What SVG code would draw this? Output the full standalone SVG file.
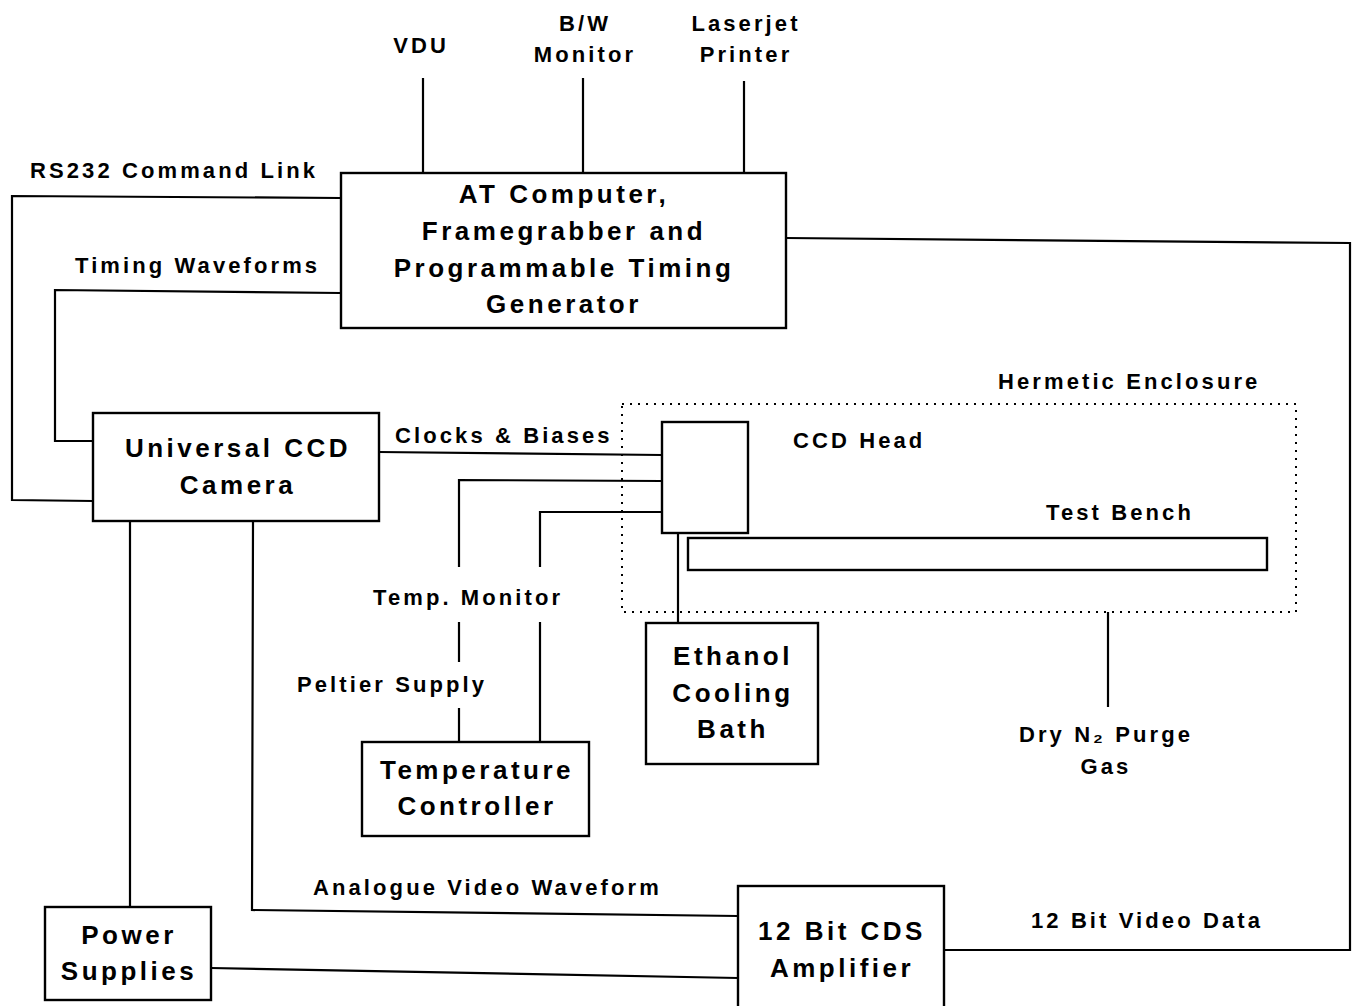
<svg xmlns="http://www.w3.org/2000/svg" width="1354" height="1006" viewBox="0 0 1354 1006">
<style>
.box{fill:#fff;stroke:#000;stroke-width:2.4}
.ln{fill:none;stroke:#000;stroke-width:2.2}
.dot{fill:none;stroke:#000;stroke-width:2;stroke-dasharray:2 6}
.t{font-family:"Liberation Sans",Arial,sans-serif;font-weight:bold;font-size:26px;letter-spacing:3.5px;text-anchor:middle;fill:#000}
.l{font-family:"Liberation Sans",Arial,sans-serif;font-weight:bold;font-size:22px;letter-spacing:3.1px;fill:#000}
.c{text-anchor:middle}
</style>
<rect width="1354" height="1006" fill="#fff"/>
<g id="connectors">
<line class="ln" x1="423" y1="78" x2="423" y2="173"/>
<line class="ln" x1="583" y1="78" x2="583" y2="173"/>
<line class="ln" x1="744" y1="81" x2="744" y2="173"/>
<polyline class="ln" points="341,198 12,196 12,500 93,501"/>
<polyline class="ln" points="341,293 55,290 55,441 93,441"/>
<line class="ln" x1="379" y1="452" x2="662" y2="455"/>
<polyline class="ln" points="662,481 459,480 459,567"/>
<line class="ln" x1="459" y1="622" x2="459" y2="662"/>
<line class="ln" x1="459" y1="708" x2="459" y2="742"/>
<polyline class="ln" points="662,512 540,512 540,567"/>
<line class="ln" x1="540" y1="622" x2="540" y2="742"/>
<line class="ln" x1="678" y1="533" x2="678" y2="623"/>
<line class="ln" x1="1108" y1="612" x2="1108" y2="707"/>
<line class="ln" x1="130" y1="521" x2="130" y2="907"/>
<polyline class="ln" points="253,521 252,910 738,916"/>
<line class="ln" x1="211" y1="968" x2="738" y2="978"/>
<polyline class="ln" points="944,950 1350,950 1350,243 786,238"/>
<rect class="dot" x="622" y="404" width="674" height="208"/>
</g>
<g id="at-computer">
<rect class="box" x="341" y="173" width="445" height="155"/>
<text class="t" x="564" y="203">AT Computer,</text>
<text class="t" x="564" y="240">Framegrabber and</text>
<text class="t" x="564" y="277">Programmable Timing</text>
<text class="t" x="564" y="313">Generator</text>
</g>
<g id="vdu"><text class="l c" x="421" y="53">VDU</text></g>
<g id="bw-monitor"><text class="l c" x="585" y="31">B/W</text><text class="l c" x="585" y="62">Monitor</text></g>
<g id="laserjet"><text class="l c" x="746" y="31">Laserjet</text><text class="l c" x="746" y="62">Printer</text></g>
<g id="camera">
<rect class="box" x="93" y="413" width="286" height="108"/>
<text class="t" x="238" y="457">Universal CCD</text>
<text class="t" x="238" y="494">Camera</text>
</g>
<g id="ccd-head">
<rect class="box" x="662" y="422" width="86" height="111"/>
<text class="l" x="793" y="448">CCD Head</text>
</g>
<g id="test-bench">
<rect class="box" x="688" y="538" width="579" height="32"/>
<text class="l" x="1046" y="520">Test Bench</text>
</g>
<g id="enclosure"><text class="l" x="998" y="389">Hermetic Enclosure</text></g>
<g id="temp-controller">
<rect class="box" x="362" y="742" width="227" height="94"/>
<text class="t" x="477" y="779">Temperature</text>
<text class="t" x="477" y="815">Controller</text>
</g>
<g id="ethanol">
<rect class="box" x="646" y="623" width="172" height="141"/>
<text class="t" x="733" y="665">Ethanol</text>
<text class="t" x="733" y="702">Cooling</text>
<text class="t" x="733" y="738">Bath</text>
</g>
<g id="n2"><text class="l c" x="1106" y="742">Dry N₂ Purge</text><text class="l c" x="1106" y="774">Gas</text></g>
<g id="power">
<rect class="box" x="45" y="907" width="166" height="93"/>
<text class="t" x="129" y="944">Power</text>
<text class="t" x="129" y="980">Supplies</text>
</g>
<g id="cds">
<rect class="box" x="738" y="886" width="206" height="124"/>
<text class="t" x="842" y="940">12 Bit CDS</text>
<text class="t" x="842" y="977">Amplifier</text>
</g>
<g id="labels">
<text class="l" x="30" y="178">RS232 Command Link</text>
<text class="l" x="75" y="273">Timing Waveforms</text>
<text class="l" x="395" y="443">Clocks &amp; Biases</text>
<text class="l" x="373" y="605">Temp. Monitor</text>
<text class="l" x="297" y="692">Peltier Supply</text>
<text class="l" x="313" y="895">Analogue Video Waveform</text>
<text class="l" x="1031" y="928">12 Bit Video Data</text>
</g>
</svg>
